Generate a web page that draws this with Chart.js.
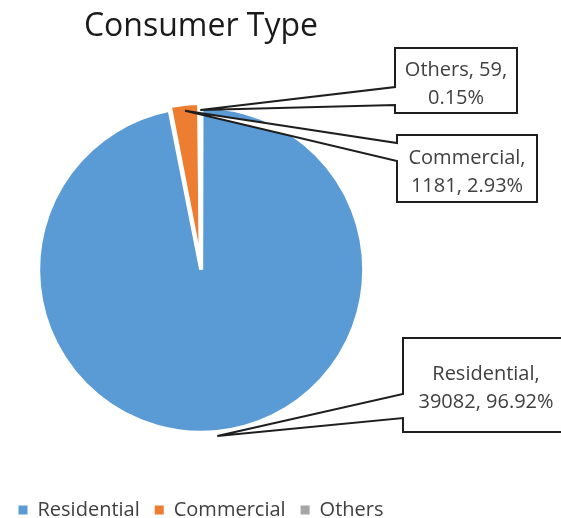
<!DOCTYPE html>
<html>
<head>
<meta charset="utf-8">
<script src="https://cdn.jsdelivr.net/npm/chart.js@4"></script>
<style>
  html, body { margin: 0; padding: 0; background: #fff; }
  #wrap { width: 561px; height: 518px; position: relative; }
</style>
</head>
<body>
<div id="wrap"><canvas id="consumerType"></canvas></div>
<script>
const categories = ['Residential', 'Commercial', 'Others'];
const consumers = [39082, 1181, 59];
const percents = ['96.92%', '2.93%', '0.15%'];
const sliceColors = ['#5B9BD5', '#ED7D31', '#A5A5A5'];

// callout boxes for the labels (left, top, width, height)
const calloutBoxes = [
    [403, 338, 166, 94],
    [397, 135, 140, 67],
    [395, 48, 122, 65]
];

const calloutPlugin = {
    id: 'callouts',
    afterDraw(chart) {
        const ctx = chart.ctx;
        const arcs = chart.getDatasetMeta(0).data;
        ctx.save();
        arcs.forEach((arc, i) => {
            const p = arc.getProps(['x', 'y', 'startAngle', 'endAngle', 'outerRadius']);
            const mid = (p.startAngle + p.endAngle) / 2;
            const off = chart.data.datasets[0].offset[i];
            const r = i === 0 ? p.outerRadius : p.outerRadius * 0.93;
            const tipX = p.x + Math.cos(mid) * (r + off);
            const tipY = p.y + Math.sin(mid) * (r + off);
            const [bx, by, bw, bh] = calloutBoxes[i];
            const half = i === 0 ? 12 : 9;
            const margin = i === 0 ? 26 : 17;
            const baseY = Math.min(Math.max(tipY, by + margin), by + bh - margin);

            ctx.beginPath();
            ctx.moveTo(bx, by);
            ctx.lineTo(bx + bw, by);
            ctx.lineTo(bx + bw, by + bh);
            ctx.lineTo(bx, by + bh);
            ctx.lineTo(bx, baseY + half);
            ctx.lineTo(tipX, tipY);
            ctx.lineTo(bx, baseY - half);
            ctx.closePath();
            ctx.fillStyle = '#fff';
            ctx.fill();
            ctx.lineWidth = 2;
            ctx.strokeStyle = '#1e1e1e';
            ctx.lineJoin = 'miter';
            ctx.stroke();

            ctx.fillStyle = '#404040';
            ctx.font = '20px "Open Sans"';
            ctx.textAlign = 'center';
            ctx.textBaseline = 'alphabetic';
            let line1, line2;
            if (i === 2) {
                line1 = categories[i] + ', ' + consumers[i] + ',';
                line2 = percents[i];
            } else {
                line1 = categories[i] + ',';
                line2 = consumers[i] + ', ' + percents[i];
            }
            const cy = by + bh / 2;
            ctx.fillText(line1, bx + bw / 2, cy - 5);
            ctx.fillText(line2, bx + bw / 2, cy + 23);
        });
        ctx.restore();
    }
};

const legendLabels = (chart) => {
    const items = Chart.overrides.doughnut.plugins.legend.labels.generateLabels(chart);
    return items.map(item => Object.assign(item, { lineWidth: 0, strokeStyle: 'rgba(0,0,0,0)' }));
};

const loadChart = () => {
    const canvasContext = document.getElementById('consumerType').getContext('2d');
    return new Chart(canvasContext, {
        type: 'pie',
        data: {
            labels: categories,
            datasets: [{
                data: consumers,
                backgroundColor: sliceColors,
                borderColor: '#fff',
                borderWidth: 4,
                offset: [8, 8, 8]
            }]
        },
        options: {
            responsive: true,
            maintainAspectRatio: false,
            animation: false,
            radius: 161,
            layout: { padding: { left: 0, right: 159, top: 0, bottom: -12 } },
            plugins: {
                title: {
                    display: true,
                    text: 'Consumer Type',
                    color: '#1a1a1a',
                    font: { family: 'Open Sans', size: 32, weight: 'normal' },
                    padding: { top: 8, bottom: 4 }
                },
                legend: {
                    position: 'bottom',
                    labels: {
                        boxWidth: 9,
                        boxHeight: 9,
                        padding: 15,
                        color: '#404040',
                        font: { family: 'Open Sans', size: 20 },
                        generateLabels: legendLabels
                    }
                },
                tooltip: { enabled: false }
            }
        },
        plugins: [calloutPlugin]
    });
};

window.addEventListener('load', function () {
    loadChart();
}, false);
</script>
</body>
</html>
